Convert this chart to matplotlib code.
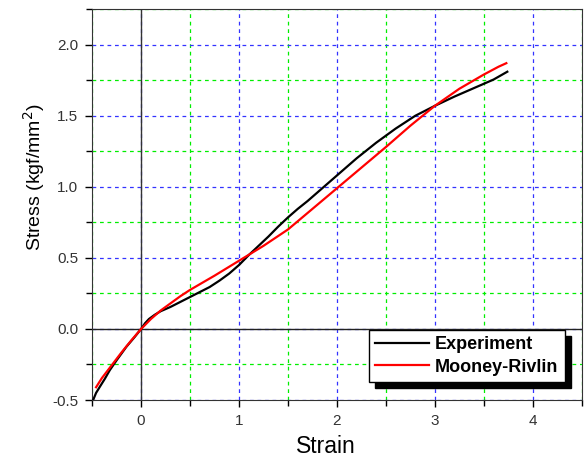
import numpy as np
import matplotlib
matplotlib.use('Agg')
import matplotlib.pyplot as plt
from matplotlib.ticker import MultipleLocator, FormatStrFormatter

plt.rcParams['font.family'] = ['Liberation Sans', 'DejaVu Sans']

# Experiment curve
exp_x = [-0.49, -0.46, -0.42, -0.37, -0.32, -0.25, -0.15, -0.07, 0.0, 0.04, 0.08,
         0.14, 0.2, 0.3, 0.4, 0.5, 0.6, 0.7, 0.8, 0.9, 1.0, 1.1, 1.2, 1.3, 1.4,
         1.5, 1.6, 1.7, 1.8, 1.9, 2.0, 2.2, 2.4, 2.6, 2.8, 3.0, 3.2, 3.4, 3.6, 3.74]
exp_y = [-0.50, -0.45, -0.405, -0.35, -0.29, -0.22, -0.125, -0.06, 0.0, 0.04, 0.07,
         0.10, 0.125, 0.155, 0.19, 0.225, 0.26, 0.295, 0.34, 0.39, 0.45, 0.52, 0.585,
         0.65, 0.72, 0.785, 0.845, 0.9, 0.96, 1.02, 1.08, 1.2, 1.31, 1.41, 1.5, 1.57,
         1.635, 1.695, 1.755, 1.81]

# Mooney-Rivlin fit
mr_x = [-0.46, -0.4, -0.3, -0.2, -0.1, 0.0, 0.1, 0.2, 0.3, 0.4, 0.5, 0.75, 1.0,
        1.25, 1.5, 1.75, 2.0, 2.25, 2.5, 2.75, 3.0, 3.25, 3.5, 3.65, 3.73]
mr_y = [-0.41, -0.345, -0.255, -0.165, -0.08, 0.0, 0.07, 0.13, 0.18, 0.23, 0.275,
        0.375, 0.48, 0.585, 0.70, 0.845, 0.99, 1.135, 1.28, 1.43, 1.57, 1.69, 1.79,
        1.845, 1.87]

fig = plt.figure(figsize=(5.87, 4.59), dpi=100)
ax = fig.add_axes([0.157, 0.1285, 0.834, 0.8515])

ax.set_xlim(-0.5, 4.5)
ax.set_ylim(-0.5, 2.25)
ax.xaxis.set_major_locator(MultipleLocator(1))
ax.xaxis.set_minor_locator(MultipleLocator(0.5))
ax.yaxis.set_minor_locator(MultipleLocator(0.25))
ax.set_yticks([-0.5, 0.0, 0.5, 1.0, 1.5, 2.0])
ax.yaxis.set_major_formatter(FormatStrFormatter('%.1f'))

ax.grid(True, which='major', color='#3333ff', linestyle=(0, (3, 3)), linewidth=0.9)
ax.grid(True, which='minor', color='#00ee00', linestyle=(0, (3, 3)), linewidth=0.9)
ax.set_axisbelow(True)
ax.axvline(0, color='#333333', linewidth=1.0, zorder=1.5)
ax.axhline(0, color='#222222', linewidth=1.0, zorder=1.5)

ax.tick_params(which='major', direction='out', length=5, width=1, labelsize=11,
               labelcolor='#333333', pad=5)
ax.tick_params(which='minor', direction='out', length=4, width=1)
for s in ax.spines.values():
    s.set_color('#333333')

ax.plot(exp_x, exp_y, color='black', linewidth=1.6, label='Experiment', zorder=3)
ax.plot(mr_x, mr_y, color='red', linewidth=1.6, label='Mooney-Rivlin', zorder=3)

ax.set_xlabel('Strain', fontsize=16.5)
ax.xaxis.set_label_coords(0.478, -0.09)
ax.set_ylabel('Stress (kgf/mm$^2$)', fontsize=14)
ax.yaxis.set_label_coords(-0.092, 0.57)

leg = ax.legend(loc='lower right', bbox_to_anchor=(0.965, 0.046), borderaxespad=0,
                fancybox=False, framealpha=1, edgecolor='black',
                shadow={'color': 'black', 'alpha': 1, 'ox': 4.5, 'oy': -4.5},
                prop={'weight': 'bold', 'size': 13}, handlelength=3.0,
                handletextpad=0.3, borderpad=0.35, labelspacing=0.3)
leg.get_frame().set_linewidth(1.0)

fig.savefig('out.png', dpi=100)
